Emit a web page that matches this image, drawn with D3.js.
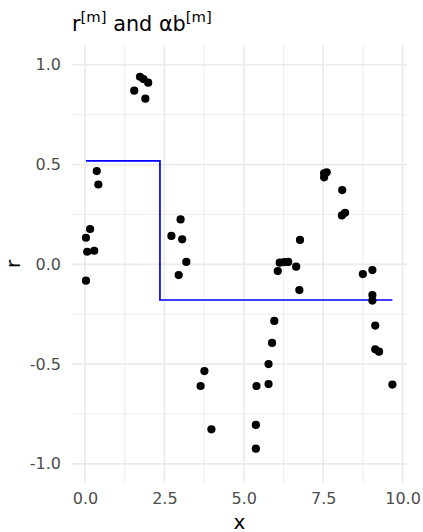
<!DOCTYPE html>
<html>
<head>
<meta charset="utf-8">
<script src="https://cdn.jsdelivr.net/npm/d3@7"></script>
<style>
  body { margin: 0; background: #fff; }
  text { font-family: "DejaVu Sans", sans-serif; }
</style>
</head>
<body>
<div id="plot"></div>
<script>
// data
var pointX = [0.03, 0.07, 0.03, 0.16, 0.29, 0.37, 0.42,
              1.55, 1.73, 1.84, 1.99, 1.90,
              2.72, 2.95, 3.01, 3.06, 3.19,
              3.64, 3.76, 3.98,
              5.38, 5.38, 5.40, 5.78, 5.78, 5.89, 5.96,
              6.07, 6.13, 6.27, 6.40, 6.65, 6.75, 6.77,
              7.53, 7.61, 7.53, 8.10, 8.09, 8.19,
              8.75, 9.05, 9.05, 9.05, 9.14, 9.14, 9.26, 9.68];
var pointY = [0.133, 0.063, -0.082, 0.177, 0.068, 0.467, 0.400,
              0.870, 0.940, 0.928, 0.910, 0.830,
              0.142, -0.054, 0.225, 0.125, 0.012,
              -0.610, -0.535, -0.827,
              -0.805, -0.924, -0.610, -0.500, -0.600, -0.394, -0.284,
              -0.034, 0.008, 0.011, 0.012, -0.012, -0.129, 0.122,
              0.456, 0.461, 0.436, 0.372, 0.245, 0.258,
              -0.049, -0.029, -0.154, -0.182, -0.307, -0.426, -0.438, -0.603];
var stepX = [0.03, 2.36, 9.68];
var stepY = [0.518, -0.179, -0.179];
var xTicks = [0, 2.5, 5, 7.5, 10];
var xMinor = [1.25, 3.75, 6.25, 8.75];
var yTicks = [-1, -0.5, 0, 0.5, 1];
var yMinor = [-0.75, -0.25, 0.25, 0.75];

var W = 423, H = 532;
var panel = { left: 72, right: 407, top: 45, bottom: 483 };

var svg = d3.select("#plot").append("svg")
    .attr("width", W)
    .attr("height", H);

var x = d3.scaleLinear().domain([-0.41, 10.14]).range([panel.left, panel.right]);
var y = d3.scaleLinear().domain([-1.096, 1.099]).range([panel.bottom, panel.top]);

// grid lines
var grid = svg.append("g");
grid.selectAll(".vminor").data(xMinor).enter().append("line")
    .attr("x1", d => x(d)).attr("x2", d => x(d))
    .attr("y1", panel.top).attr("y2", panel.bottom)
    .attr("stroke", "#ebebeb").attr("stroke-width", 0.9);
grid.selectAll(".hminor").data(yMinor).enter().append("line")
    .attr("x1", panel.left).attr("x2", panel.right)
    .attr("y1", d => y(d)).attr("y2", d => y(d))
    .attr("stroke", "#ebebeb").attr("stroke-width", 0.9);
grid.selectAll(".vmajor").data(xTicks).enter().append("line")
    .attr("x1", d => x(d)).attr("x2", d => x(d))
    .attr("y1", panel.top).attr("y2", panel.bottom)
    .attr("stroke", "#ebebeb").attr("stroke-width", 1.7);
grid.selectAll(".hmajor").data(yTicks).enter().append("line")
    .attr("x1", panel.left).attr("x2", panel.right)
    .attr("y1", d => y(d)).attr("y2", d => y(d))
    .attr("stroke", "#ebebeb").attr("stroke-width", 1.7);

// axes (no ticks, no domain line)
var fmt = d => d3.format(".1f")(d).replace("\u2212", "-");
var xAxis = svg.append("g")
    .attr("transform", "translate(0," + panel.bottom + ")")
    .call(d3.axisBottom(x).tickValues(xTicks).tickFormat(fmt).tickSize(0).tickPadding(10));
var yAxis = svg.append("g")
    .attr("transform", "translate(" + panel.left + ",0)")
    .call(d3.axisLeft(y).tickValues(yTicks).tickFormat(fmt).tickSize(0).tickPadding(11));
[xAxis, yAxis].forEach(function (a) {
    a.select(".domain").remove();
    a.selectAll("text")
        .style("font-family", "DejaVu Sans")
        .style("font-size", "16px")
        .attr("fill", "#4d4d4d");
});

// step line
var line = d3.line()
    .x((d, i) => x(stepX[i]))
    .y((d, i) => y(stepY[i]))
    .curve(d3.curveStepAfter);
svg.append("path")
    .attr("d", line(stepX))
    .attr("fill", "none")
    .attr("stroke", "#0000ff")
    .attr("stroke-width", 1.7);

// points
svg.selectAll(".dot")
    .data(pointX)
    .enter().append("circle")
    .attr("class", "dot")
    .attr("cx", (d, i) => x(pointX[i]))
    .attr("cy", (d, i) => y(pointY[i]))
    .attr("r", 4.1)
    .attr("fill", "#000");

// axis titles
svg.append("text")
    .attr("x", (panel.left + panel.right) / 2)
    .attr("y", 529)
    .style("text-anchor", "middle")
    .style("font-size", "20px")
    .text("x");
svg.append("text")
    .attr("transform", "translate(20," + ((panel.top + panel.bottom) / 2) + ") rotate(-90)")
    .style("text-anchor", "middle")
    .style("font-size", "20px")
    .text("r");

// title with superscripts
var title = svg.append("text")
    .attr("x", panel.left)
    .attr("y", 31)
    .style("font-size", "20.8px");
title.append("tspan").text("r");
title.append("tspan").attr("dy", -9).style("font-size", "14.8px").text("[m]");
title.append("tspan").attr("dy", 9).text(" and \u03b1b");
title.append("tspan").attr("dy", -9).style("font-size", "14.8px").text("[m]");
</script>
</body>
</html>
